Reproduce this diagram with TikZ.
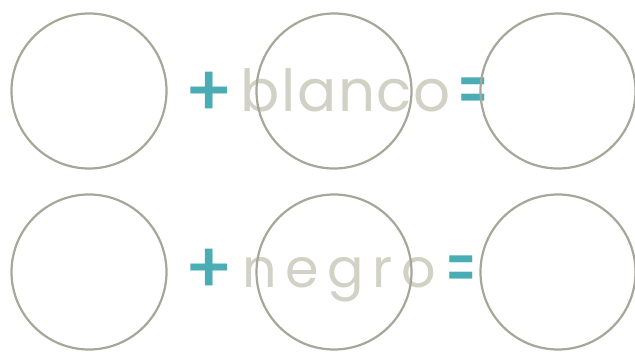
\documentclass[tikz,border=0pt]{standalone}
\usepackage{fontspec}
\setmainfont{Poppins}
\newfontfamily\wordface[LetterSpace=3]{Poppins}
\newfontfamily\signface{Poppins Medium}
\usepackage{xcolor}
\usepackage{tikz}
\usetikzlibrary{positioning}
\definecolor{ring}{HTML}{A6A699}
\definecolor{word}{HTML}{D2D1C5}
\definecolor{teal}{HTML}{4AADB6}
\tikzset{
  slot/.style={circle,draw=ring,line width=2.2pt,minimum size=155pt,inner sep=0pt},
  wordb/.style={font=\wordface\fontsize{58}{58}\selectfont,text=word,inner sep=0pt,anchor=base west},
  wordn/.style={wordb,font=\wordface\fontsize{54}{54}\selectfont\addfontfeature{LetterSpace=16}},
  opsign/.style={font=\signface\fontsize{72}{72}\selectfont,text=teal,inner sep=0pt},
  eqsign/.style={opsign,xscale=0.6,transform shape},
}
\begin{document}
\begin{tikzpicture}[x=1pt,y=-1pt]
\useasboundingbox (0,0) rectangle (635,352);
% first row
\node[slot] (c1) at (89,91) {};
\node[opsign] (p1) at (209,94) {+};
\node[wordb] (w1) at (240,112) {blanco};
\node[slot] (c2) at (334,91) {};
\node[eqsign] (e1) at (473,97) {=};
\node[slot] (c3) at (558,91) {};
% second row
\node[slot] (c4) at (89,272) {};
\node[opsign] (p2) at (209,271) {+};
\node[wordn] (w2) at (242,288) {negro};
\node[slot] (c5) at (334,272) {};
\node[eqsign] (e2) at (461,275) {=};
\node[slot] (c6) at (558,272) {};
\end{tikzpicture}
\end{document}
